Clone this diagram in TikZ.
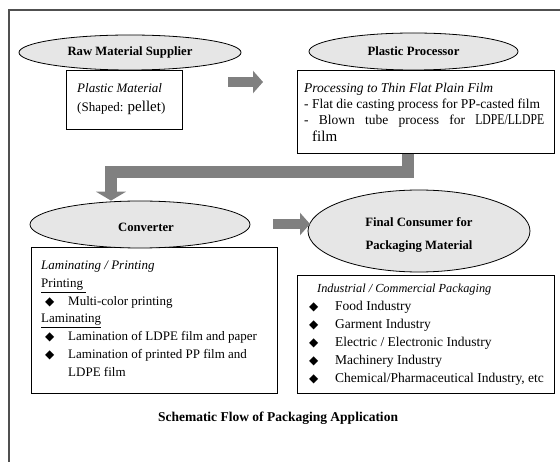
\documentclass[tikz,border=0pt]{standalone}
\usepackage{fontspec}
\setmainfont{Liberation Serif}
\newfontfamily\bulletfont{DejaVu Sans}
\usetikzlibrary{shapes.geometric,arrows.meta}

\definecolor{flowgray}{HTML}{808080}
\definecolor{framegray}{HTML}{505050}
\definecolor{stagefill}{HTML}{E6E6E6}

\tikzset{
  stage/.style={ellipse, draw=black, line width=0.8pt, fill=stagefill,
    inner sep=0pt, align=center,
    font=\fontsize{12.7}{15}\selectfont\bfseries},
  infobox/.style={draw=black, line width=0.9pt, inner sep=0pt,
    anchor=north west},
  txt/.style={anchor=base west, inner sep=0pt,
    font=\fontsize{13}{15.6}\selectfont},
  itemtxt/.style={txt, font=\fontsize{13.5}{16}\selectfont},
  bul/.style={anchor=base west, inner sep=0pt,
    font=\bulletfont\fontsize{12}{14}\selectfont},
  flow/.style={draw=flowgray, line width=10pt, line join=miter,
    -{Triangle[width=22pt,length=10pt]}},
}
\newcommand{\largertext}[1]{{\fontsize{15}{18}\selectfont #1}}
\newcommand{\tallword}[2]{\scalebox{#1}[1]{\fontsize{15}{18}\selectfont #2}}

\begin{document}
\begin{tikzpicture}[x=1pt,y=-1pt]
\useasboundingbox (0,0) rectangle (560,462);

% outer frame
\draw[framegray, line width=1.5pt] (9,462) -- (9,10) -- (560,10);

% text boxes
\node[infobox, minimum width=116pt, minimum height=59pt] (box1) at (66,70) {};
\node[infobox, minimum width=257pt, minimum height=83pt] (box2) at (297,70) {};
\node[infobox, minimum width=246pt, minimum height=146pt] (box3) at (31,247) {};
\node[infobox, minimum width=257pt, minimum height=118pt] (box4) at (297,275) {};

% stages
\node[stage, minimum width=222pt, minimum height=35pt] (supplier) at (130,52.5) {Raw Material Supplier};
\node[stage, minimum width=209pt, minimum height=37pt] (processor) at (413.5,51.5) {Plastic Processor};
\node[stage, minimum width=220pt, minimum height=47pt] (converter) at (140,224.5) {\hspace*{12pt}\rule{0pt}{15pt}Converter};
\node[stage, minimum width=222pt, minimum height=82pt] (consumer) at (419,231) {\rule{0pt}{17pt}Final Consumer for\\[8pt]Packaging Material};

% supplier text
\node[txt] (t1a) at (77,93) {\itshape Plastic Material};
\node[txt] (t1b) at (77,112) {(Shaped: \largertext{pellet})};

% processor text
\node[txt, font=\fontsize{13.5}{16}\selectfont\itshape] (t2a) at (304,93) {Processing to Thin Flat Plain Film};
\node[itemtxt] (t2b) at (304,109) {- Flat die casting process for PP-casted film};
\node[itemtxt] (t2c) at (304,125) {\makebox[240pt][s]{- Blown tube process for \tallword{0.78}{LDPE/LLDPE}}};
\node[itemtxt] (t2d) at (312,142) {\largertext{film}};

% converter text
\node[txt] (t3a) at (41,270) {\itshape Laminating / Printing};
\node[txt] (t3b) at (41,288) {\underline{Printing\ }};
\node[bul] (b3a) at (45,306) {◆};
\node[txt] (t3c) at (68,306) {Multi-color printing};
\node[txt] (t3d) at (41,323) {\underline{Laminating}};
\node[bul] (b3b) at (45,341) {◆};
\node[txt] (t3e) at (68,341) {Lamination of LDPE film and paper};
\node[bul] (b3c) at (45,359) {◆};
\node[txt] (t3f) at (68,359) {Lamination of printed PP film and};
\node[txt] (t3g) at (68,377) {LDPE film};

% consumer text
\node[txt, font=\fontsize{12.3}{15}\selectfont\itshape] (t4a) at (317,293) {Industrial / Commercial Packaging};
\node[bul] (b4a) at (309,311) {◆};
\node[itemtxt] (t4b) at (335,311) {Food Industry};
\node[bul] (b4b) at (309,329) {◆};
\node[itemtxt] (t4c) at (335,329) {Garment Industry};
\node[bul] (b4c) at (309,347) {◆};
\node[itemtxt] (t4d) at (335,347) {Electric / Electronic Industry};
\node[bul] (b4d) at (309,365) {◆};
\node[itemtxt] (t4e) at (335,365) {Machinery Industry};
\node[bul] (b4e) at (309,383) {◆};
\node[itemtxt] (t4f) at (335,383) {Chemical/Pharmaceutical Industry, etc};

% caption
\node[anchor=base, inner sep=0pt, font=\fontsize{13.5}{16}\selectfont\bfseries] (caption) at (278,422) {Schematic Flow of Packaging Application};

% flow arrows
\coordinate (a1s) at (228,82);
\coordinate (a1e) at (263,82);
\draw[flow] (a1s) -- (a1e);

\coordinate (bendR) at (408,172);
\coordinate (bendL) at (111,172);
\draw[flow, line width=12pt, -{Triangle[width=30pt,length=9pt]}]
  (box2.south -| bendR) -- (bendR) -- (bendL) -- (bendL |- converter.north);

\coordinate (a2s) at (273,224);
\coordinate (a2e) at (310,224);
\draw[flow] (a2s) -- (a2e);
\end{tikzpicture}
\end{document}
